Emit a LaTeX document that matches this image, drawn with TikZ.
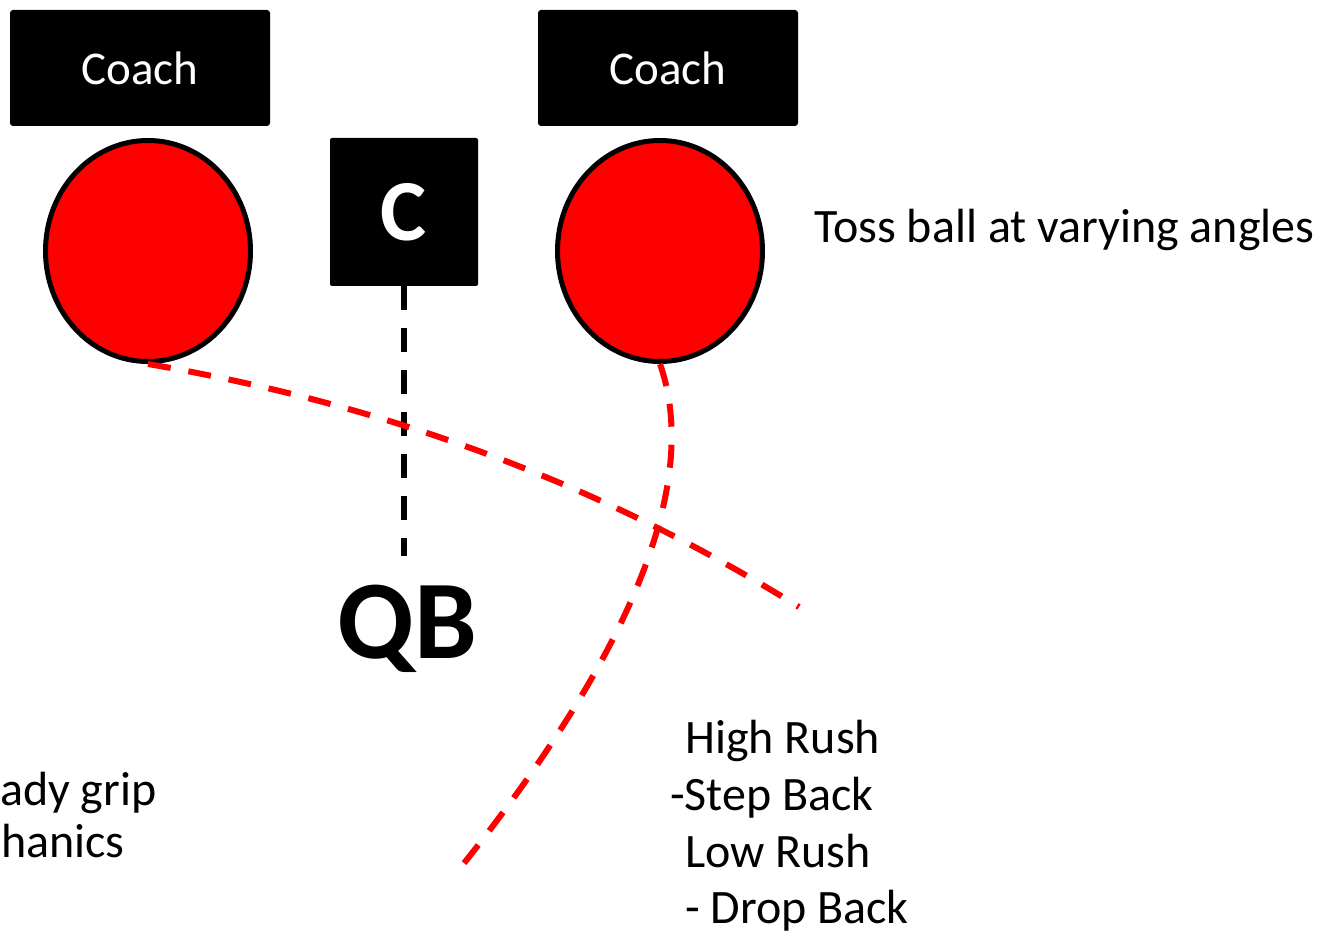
\documentclass[tikz,border=0pt]{standalone}
\usepackage{fontspec}
\setmainfont{Carlito}
\usetikzlibrary{shapes.geometric,positioning}

\begin{document}
\begin{tikzpicture}
    [x=1pt,y=-1pt,
    coach/.style={rectangle,fill=black,text=white,rounded corners=3pt,
    minimum width=260pt,minimum height=116pt,inner sep=0pt,
    font=\fontsize{47}{56}\selectfont},
    player/.style={ellipse,draw=black,fill=red,line width=5pt,
    minimum width=205pt,minimum height=221pt,inner sep=0pt},
    centerbox/.style={rectangle,fill=black,text=white,rounded corners=2pt,
    minimum size=148pt,inner sep=0pt,font=\fontsize{87}{90}\bfseries\selectfont},
    note/.style={anchor=base west,inner sep=0pt,font=\fontsize{48}{57}\selectfont},
    snapline/.style={black,line width=6pt,dash pattern=on 24pt off 18pt},
    route/.style={red,line width=6pt,dash pattern=on 23pt off 18pt}]
    \useasboundingbox (0,0) rectangle (1318,936);
    % coaches and players
    \node[coach] (left coach) at (140,68) {Coach};
    \node[coach] (right coach) at (668,68) {Coach};
    \node[player] (left player) at (148,251) {};
    \node[player] (right player) at (660,251) {};
    \node[centerbox] (center) at (404,212) {C};
    \node[anchor=base,inner sep=0pt,font=\fontsize{112}{120}\bfseries\selectfont] (qb) at (407,658) {QB};
    \coordinate (snap end) at (404,556);
    \coordinate (high end) at (799,607);
    \coordinate (low end) at (457,872);
    % snap and ball paths
    \draw[snapline] (center.south) -- (snap end);
    \draw[route] (left player.south) .. controls (388,405) and (603,485) .. (high end);
    \draw[route] (right player.south) .. controls (690,450) and (675,600) .. (low end);
    % notes
    \node[note] (toss) at (814,243) {Toss ball at varying angles};
    \node[note] (high rush) at (685,753) {High Rush};
    \node[note] (step back) at (670,810) {-Step Back};
    \node[note] (low rush) at (685,867) {Low Rush};
    \node[note] (drop back) at (685,923) {- Drop Back};
    \node[note] (grip) at (0,805) {ady grip};
    \node[note] (mechanics) at (1,857) {hanics};
\end{tikzpicture}
\end{document}
